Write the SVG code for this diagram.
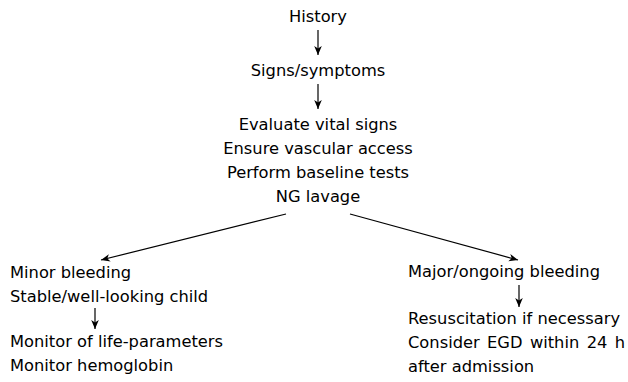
<svg xmlns="http://www.w3.org/2000/svg" width="628" height="382" viewBox="0 0 628 382">
<style>
text{font-family:"DejaVu Sans",Verdana,sans-serif;font-size:16.3px;fill:#000}
.c{text-anchor:middle}
.ln{stroke:#000;stroke-width:1.2;fill:none;marker-end:url(#ah)}
</style>
<defs>
<marker id="ah" markerUnits="userSpaceOnUse" markerWidth="12" markerHeight="10" viewBox="-10 -5 12 10" refX="0" refY="0" orient="auto">
<path d="M0,0 L-9,-3.8 L-6.5,0 L-9,3.8 Z" fill="#000"/>
</marker>
</defs>
<rect width="628" height="382" fill="#fff"/>
<g id="history"><text class="c" x="318" y="22">History</text></g>
<g id="signs"><text class="c" x="318" y="76">Signs/symptoms</text></g>
<g id="evaluate">
<text class="c" x="318" y="130">Evaluate vital signs</text>
<text class="c" x="318" y="154">Ensure vascular access</text>
<text class="c" x="318" y="178">Perform baseline tests</text>
<text class="c" x="318" y="202">NG lavage</text>
</g>
<g id="minor">
<text x="10" y="278">Minor bleeding</text>
<text x="10" y="302">Stable/well-looking child</text>
</g>
<g id="monitor">
<text x="10" y="347">Monitor of life-parameters</text>
<text x="10" y="371">Monitor hemoglobin</text>
</g>
<g id="major"><text x="408" y="277">Major/ongoing bleeding</text></g>
<g id="resus">
<text x="408" y="324">Resuscitation if necessary</text>
<text x="408" y="348" word-spacing="2.2">Consider EGD within 24 h</text>
<text x="408" y="372">after admission</text>
</g>
<g id="connectors">
<path class="ln" d="M318,30 V55"/>
<path class="ln" d="M318,84 V109"/>
<path class="ln" d="M286,214 L101,260"/>
<path class="ln" d="M350,214 L518,260"/>
<path class="ln" d="M95,308 V329"/>
<path class="ln" d="M519,285 V307"/>
</g>
</svg>
